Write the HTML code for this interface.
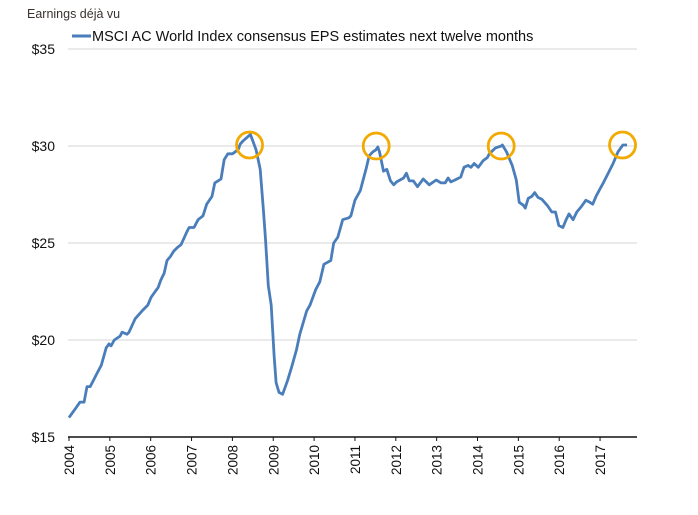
<!DOCTYPE html>
<html><head><meta charset="utf-8"><style>
html,body{margin:0;padding:0;background:#fff;}
svg{display:block;font-family:"Liberation Sans",sans-serif;}
</style></head><body>
<svg id="chart" width="698" height="515">
<text x="27" y="18" font-size="12.5" fill="#3a3330">Earnings déjà vu</text>
<g>
<line x1="72" y1="36" x2="91" y2="36" stroke="#4a7ebb" stroke-width="3"/>
<text x="92" y="41" font-size="14.5" fill="#111">MSCI AC World Index consensus EPS estimates next twelve months</text>
</g>
<g id="grid"></g><g id="yaxis"></g><g id="xaxis"></g><g id="series"></g><g id="circles"></g>
</svg>
<script>
const yTicks=[15,20,25,30,35];
const yLabels=["$15","$20","$25","$30","$35"];
const years=[2004,2005,2006,2007,2008,2009,2010,2011,2012,2013,2014,2015,2016,2017];
const highlightDates=[2008.42,2011.52,2014.58,2017.55];
const highlightValues=[30.05,30.0,30.0,30.05];
const dates=[2004.0,2004.17,2004.27,2004.37,2004.44,2004.52,2004.69,2004.79,2004.91,2004.98,2005.03,2005.11,2005.25,2005.3,2005.42,2005.47,2005.62,2005.79,2005.93,2006.01,2006.11,2006.18,2006.25,2006.33,2006.4,2006.48,2006.57,2006.67,2006.74,2006.87,2006.94,2007.06,2007.16,2007.28,2007.37,2007.5,2007.57,2007.72,2007.8,2007.89,2008.0,2008.07,2008.15,2008.19,2008.26,2008.44,2008.58,2008.68,2008.76,2008.81,2008.88,2008.95,2009.02,2009.07,2009.14,2009.23,2009.35,2009.45,2009.57,2009.65,2009.82,2009.9,2010.04,2010.14,2010.24,2010.41,2010.48,2010.58,2010.7,2010.85,2010.9,2011.0,2011.13,2011.22,2011.27,2011.35,2011.44,2011.51,2011.56,2011.6,2011.7,2011.78,2011.87,2011.95,2012.02,2012.19,2012.26,2012.33,2012.43,2012.53,2012.67,2012.82,2012.99,2013.11,2013.21,2013.28,2013.35,2013.45,2013.59,2013.62,2013.67,2013.77,2013.84,2013.92,2014.02,2014.14,2014.24,2014.29,2014.44,2014.58,2014.61,2014.71,2014.85,2014.95,2015.02,2015.12,2015.17,2015.24,2015.33,2015.4,2015.48,2015.58,2015.72,2015.82,2015.91,2015.99,2016.09,2016.17,2016.24,2016.34,2016.43,2016.55,2016.65,2016.75,2016.82,2016.9,2017.0,2017.08,2017.2,2017.32,2017.44,2017.56,2017.56,2017.66];
const values=[16.0,16.5,16.8,16.8,17.6,17.6,18.3,18.7,19.6,19.8,19.7,20.0,20.2,20.4,20.3,20.4,21.1,21.5,21.8,22.2,22.5,22.7,23.1,23.45,24.1,24.3,24.6,24.8,24.9,25.5,25.8,25.8,26.2,26.4,27.0,27.4,28.1,28.3,29.3,29.6,29.6,29.7,29.85,30.1,30.26,30.6,29.8,28.8,26.7,25.2,22.8,21.8,19.2,17.8,17.3,17.2,17.9,18.6,19.5,20.3,21.5,21.8,22.6,23.0,23.9,24.1,25.0,25.3,26.2,26.3,26.4,27.2,27.7,28.4,28.8,29.5,29.7,29.8,29.95,29.7,28.7,28.8,28.2,28.0,28.15,28.35,28.6,28.2,28.2,27.9,28.3,28.0,28.25,28.1,28.1,28.35,28.15,28.25,28.4,28.6,28.9,29.0,28.9,29.1,28.9,29.25,29.4,29.6,29.9,30.0,30.05,29.7,29.0,28.25,27.1,26.95,26.8,27.3,27.4,27.6,27.35,27.25,26.9,26.6,26.6,25.9,25.8,26.2,26.5,26.2,26.6,26.9,27.2,27.1,27.0,27.4,27.8,28.1,28.6,29.1,29.7,30.05,30.05,30.05];
const NS="http://www.w3.org/2000/svg";
const X0=69,PX=40.85,Y0=437,PY=19.4;
function xs(d){return X0+(d-2004)*PX;}
function ys(v){return Y0-(v-15)*PY;}
function mk(t,a,p){const e=document.createElementNS(NS,t);for(const k in a)e.setAttribute(k,a[k]);p.appendChild(e);return e;}
const grid=document.getElementById('grid'),ya=document.getElementById('yaxis'),xa=document.getElementById('xaxis');
yTicks.forEach((v,i)=>{
  if(v>15){const g=mk('line',{x1:68,x2:637,y1:ys(v),y2:ys(v),stroke:'#dedede','stroke-width':1.2},grid);
  
  }
  const t=mk('text',{x:55,y:ys(v)+5,'text-anchor':'end','font-size':14,fill:'#111'},ya);
  t.textContent=yLabels[i];
  
  
});
const ax=mk('line',{x1:68,x2:637,y1:Y0,y2:Y0,stroke:'#111','stroke-width':1.5},xa);


years.forEach(y=>{
  const x=xs(y);
  mk('line',{x1:x,x2:x,y1:Y0,y2:Y0+4,stroke:'#111','stroke-width':1},xa);
  const t=mk('text',{x:0,y:0,'text-anchor':'end','font-size':13.5,fill:'#111',transform:'translate('+(x+5)+','+(Y0+8)+') rotate(-90)'},xa);
  t.textContent=y;
  
  
});
const d=dates.map((t,i)=>(i?'L':'M')+xs(t).toFixed(1)+','+ys(values[i]).toFixed(1)).join('');
const p=mk('path',{d:d,fill:'none',stroke:'#4a7ebb','stroke-width':2.8,'stroke-linejoin':'round'},document.getElementById('series'));


highlightDates.forEach((t,i)=>{
  const c=mk('circle',{cx:xs(t),cy:ys(highlightValues[i]),r:13,fill:'none',stroke:'#f2a900','stroke-width':2.8},document.getElementById('circles'));
  
  
});
</script>
</body></html>
